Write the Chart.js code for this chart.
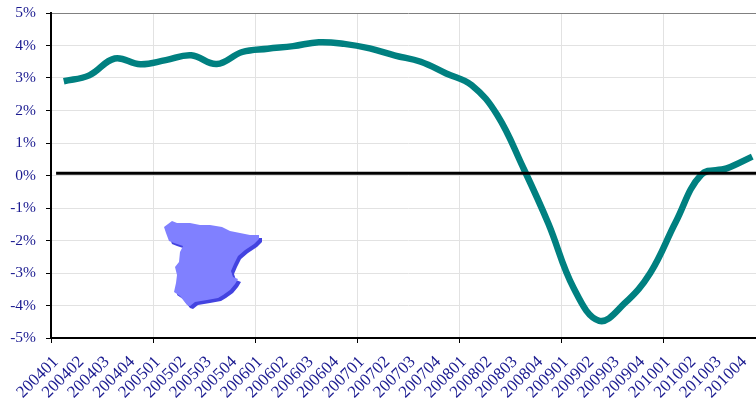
<!DOCTYPE html>
<html>
<head>
<meta charset="utf-8">
<script src="https://cdn.jsdelivr.net/npm/chart.js@4"></script>
<style>
html, body { margin: 0; padding: 0; background: #fff; overflow: hidden; }
#wrap { width: 756px; height: 405px; overflow: hidden; }
canvas { display: block; }
</style>
</head>
<body>
<div id="wrap"><canvas id="chart" width="770" height="405"></canvas></div>
<script>
const quarters = ['200401', '200402', '200403', '200404', '200501', '200502', '200503', '200504',
    '200601', '200602', '200603', '200604', '200701', '200702', '200703', '200704',
    '200801', '200802', '200803', '200804', '200901', '200902', '200903', '200904',
    '201001', '201002', '201003', '201004'];
const growth = [2.9, 3.08, 3.6, 3.42, 3.55, 3.7, 3.43, 3.8,
    3.9, 3.98, 4.1, 4.05, 3.91, 3.69, 3.5, 3.14,
    2.78, 1.86, 0.27, -1.47, -3.47, -4.47, -3.93, -3.0,
    -1.43, 0.02, 0.22, 0.58];

// linea negra, va sobre un eje oculto para que empiece antes del primer trimestre
const baselineX = [0.2, 28];
const baselineY = [0.07, 0.07];

const yTicks = [-5, -4, -3, -2, -1, 0, 1, 2, 3, 4, 5];

// silueta del mapa, en pixeles de la imagen
const mapOutline = [[164, 227], [172, 221], [177, 223], [190, 223], [200, 225], [210, 225], [222, 227],
    [230, 231], [240, 233], [250, 235], [259, 235], [259, 239], [254, 244], [245, 250], [238, 256],
    [234, 264], [231, 271], [233, 277], [238, 279], [235, 284], [230, 290], [223, 295], [218, 298],
    [207, 300], [195, 302], [190, 306], [187, 305], [180, 296], [174, 292], [176, 283], [177, 275],
    [175, 267], [179, 262], [180, 252], [183, 246], [174, 243], [169, 241], [166, 233]];

const textColor = '#1a1a90';
const yFont = { family: '"Liberation Serif", serif', size: 15.5 };
const xFont = { family: '"Liberation Serif", serif', size: 17 };

function tracePath(ctx, dx, dy) {
    ctx.beginPath();
    mapOutline.forEach((p, i) => {
        if (i === 0) ctx.moveTo(p[0] + dx, p[1] + dy);
        else ctx.lineTo(p[0] + dx, p[1] + dy);
    });
    ctx.closePath();
}

const spainMap = {
    id: 'spainMap',
    beforeDatasetsDraw(chart) {
        const ctx = chart.ctx;
        ctx.save();
        ctx.fillStyle = '#4343e0';
        tracePath(ctx, 3, 3);
        ctx.fill();
        ctx.fillStyle = '#8080ff';
        tracePath(ctx, 0, 0);
        ctx.fill();
        ctx.restore();
    }
};

// sin margenes automaticos, el area del grafico queda fija
function fixMargins(axis) {
    axis.paddingTop = 0;
    axis.paddingBottom = 0;
    axis.paddingLeft = 0;
    axis.paddingRight = 0;
}

new Chart(document.getElementById('chart').getContext('2d'), {
    type: 'line',
    plugins: [spainMap],
    data: {
        labels: quarters,
        datasets: [{
            data: baselineX.map((x, i) => ({ x: x, y: baselineY[i] })),
            xAxisID: 'x2',
            borderColor: '#000',
            borderWidth: 3,
            pointRadius: 0,
        }, {
            data: growth,
            borderColor: '#008080',
            borderWidth: 6.5,
            pointRadius: 0,
            tension: 0.4,
            borderCapStyle: 'butt',
        }]
    },
    options: {
        responsive: false,
        animation: false,
        layout: { padding: { top: 13, right: 5 } },
        plugins: { legend: { display: false }, tooltip: { enabled: false } },
        scales: {
            x: {
                offset: true,
                afterFit: axis => { axis.height = 67; fixMargins(axis); },
                border: { color: '#000', width: 2 },
                grid: {
                    offset: true,
                    tickLength: 5,
                    color: c => (c.index % 4 === 0 ? '#e2e2e2' : 'transparent'),
                    tickColor: c => (c.index % 4 === 0 ? '#000' : 'transparent'),
                },
                ticks: {
                    autoSkip: false,
                    maxRotation: 45,
                    minRotation: 45,
                    labelOffset: -8,
                    padding: 9,
                    color: textColor,
                    font: xFont,
                },
            },
            x2: { type: 'linear', display: false, min: 0, max: 28 },
            y: {
                min: yTicks[0],
                max: yTicks[yTicks.length - 1],
                afterFit: axis => { axis.width = 51; fixMargins(axis); },
                border: { color: '#000', width: 2 },
                grid: {
                    tickLength: 5,
                    color: c => (c.tick.value === 5 ? '#808080' : '#e2e2e2'),
                    tickColor: '#000',
                },
                ticks: {
                    stepSize: 1,
                    padding: 10,
                    color: textColor,
                    font: yFont,
                    callback: v => v + '%',
                },
            },
        },
    },
});
</script>
</body>
</html>
